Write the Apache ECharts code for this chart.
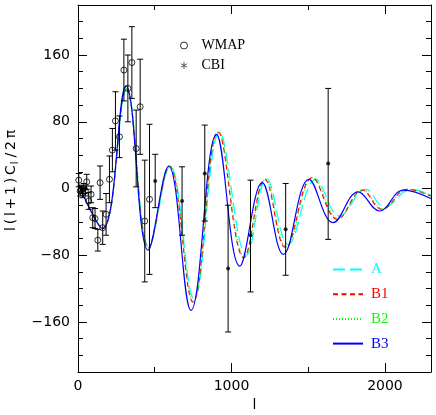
<!DOCTYPE html>
<html>
<head>
<meta charset="utf-8">
<script src="https://cdn.jsdelivr.net/npm/echarts@6/dist/echarts.min.js"></script>
<style>
  html, body { margin: 0; padding: 0; background: #fff; }
  #chart { width: 436px; height: 415px; }
</style>
</head>
<body>
<div id="chart"></div>
<script>
// model curves: peaks and troughs of l(l+1)C_l/2pi
const lA  = [2,160,316,463,600,755,922,1098,1229,1370,1549,1704,1875,1996,2172,2300];
const vA  = [5,-48,118,-70,27,-132,67,-80,12,-67,11,-33,-1,-22,-1,-8];
const lB1 = [2,160,314,460,595,749,913,1081,1218,1352,1527,1691,1852,1980,2146,2300];
const vB1 = [5,-48,120,-71,27,-136,68,-83,11,-71,13,-37,-2,-25,-1,-9];
const lB2 = [2,160,315,461,597,751,916,1086,1222,1358,1533,1696,1856,1984,2150,2300];
const vB2 = [5,-48,120,-71,27,-135,68,-82,11,-70,13,-36,-2,-24,-1,-8];
const lB3 = [2,160,313,457,590,736,902,1054,1200,1338,1505,1662,1825,1965,2120,2300];
const vB3 = [5,-48,123,-74,27,-146,65,-93,7,-79,11,-41,-4,-27,-2,-12];

// WMAP band powers (value, symmetric error)
const wmapL   = [5,14,22,30,38,48,57,70,85,96,111,129,144,161,183,205,224,244,270,299,325,351,379,405,435,466];
const wmapV   = [10,-3,-1,-5,0,-3,8,-15,-7,-35,-36,-62,7,-47,-31,11,46,81,62,142,120,151,48,98,-39,-13];
const wmapErr = [8,6,5,6,6,6,9,10,10,12,12,13,20,20,25,28,26,35,25,37,40,43,46,57,73,90];

// CBI band powers with lower / upper ends of the bars
const cbiL  = [503,678,826,978,1124,1353,1630];
const cbiV  = [9,-15,18,-96,-56,-49,30];
const cbiLo = [-23,-56,-39,-172,-124,-104,-61];
const cbiHi = [41,26,76,-20,10,6,120];

const xMajorTicks = [0,1000,2000];
const xMinorTicks = [500,1500];
const yMajorTicks = [-160,-80,0,80,160];
const yMinorTicks = [-200,-180,-140,-120,-100,-60,-40,-20,20,40,60,100,120,140,180,200];

const zip = (ls, vs) => ls.map((l, i) => [l, vs[i]]);
const tickFont = { color: '#000', fontFamily: 'DejaVu Sans', fontSize: 14 };
const serif = 'Liberation Serif';

function xAx(pos, ticks, len, label) {
  return {
    type: 'value', min: 0, max: 2300, position: pos,
    axisLine: { show: len > 6, onZero: false, lineStyle: { color: '#000', width: 1 } },
    axisTick: { show: true, inside: true, length: len, customValues: ticks, lineStyle: { color: '#000' } },
    axisLabel: label ? Object.assign({ customValues: ticks, margin: 7, formatter: v => String(v) }, tickFont) : { show: false },
    splitLine: { show: false }
  };
}
function yAx(pos, ticks, len, label) {
  return {
    type: 'value', min: -220, max: 220, position: pos,
    axisLine: { show: len > 6, onZero: false, lineStyle: { color: '#000', width: 1 } },
    axisTick: { show: true, inside: true, length: len, customValues: ticks, lineStyle: { color: '#000' } },
    axisLabel: label ? Object.assign({
      customValues: ticks, margin: 8,
      formatter: v => String(v).replace('-', '\u2212')
    }, tickFont) : { show: false },
    splitLine: { show: false }
  };
}

const xAxes = [xAx('bottom', xMajorTicks, 9, true), xAx('bottom', xMinorTicks, 5, false),
               xAx('top', xMajorTicks, 9, false), xAx('top', xMinorTicks, 5, false)];
xAxes[0].name = 'l';
xAxes[0].nameLocation = 'middle';
xAxes[0].nameGap = 24;
xAxes[0].nameTextStyle = { color: '#000', fontFamily: 'DejaVu Sans', fontSize: 14 };

// the title in the picture is set wide, thin spaces keep that look
const ts = '\u2009';
const yAxes = [yAx('left', yMajorTicks, 9, true), yAx('left', yMinorTicks, 5, false),
               yAx('right', yMajorTicks, 9, false), yAx('right', yMinorTicks, 5, false)];
yAxes[0].name = ['l', '(', 'l', '+', '1', ')', 'C{sub|l}', '/', '2', '\u03c0'].join(ts);
yAxes[0].nameLocation = 'middle';
yAxes[0].nameGap = 58;
yAxes[0].nameTextStyle = {
  color: '#000', fontFamily: 'DejaVu Sans', fontSize: 14, padding: [0, 0, 0, 16],
  rich: { sub: { fontFamily: 'DejaVu Sans', fontSize: 10, color: '#000', padding: [8, 1, 0, 1] } }
};

function errorBars(points) {
  return {
    type: 'custom', name: 'bars', silent: true,
    data: points,
    encode: { x: 0, y: [1, 2] },
    renderItem: (params, api) => {
      const lo = api.coord([api.value(0), api.value(1)]);
      const hi = api.coord([api.value(0), api.value(2)]);
      const w = 3;
      const st = { stroke: '#000', lineWidth: 1 };
      return {
        type: 'group',
        children: [
          { type: 'line', shape: { x1: lo[0], y1: lo[1], x2: hi[0], y2: hi[1] }, style: st },
          { type: 'line', shape: { x1: lo[0] - w, y1: lo[1], x2: lo[0] + w, y2: lo[1] }, style: st },
          { type: 'line', shape: { x1: hi[0] - w, y1: hi[1], x2: hi[0] + w, y2: hi[1] }, style: st }
        ]
      };
    },
    z: 3
  };
}

function curve(name, ls, vs, color, type) {
  return {
    type: 'line', name: name, data: zip(ls, vs),
    symbol: 'none', smooth: 0.4,
    lineStyle: { color: color, width: 1.2, type: type },
    itemStyle: { color: color },
    z: 2
  };
}

const asterisk = 'path://M-0.6,-5L0.6,-5L0.6,5L-0.6,5Z' +
  'M4.03,-3.02L4.63,-1.98L-4.03,3.02L-4.63,1.98Z' +
  'M-4.63,-1.98L-4.03,-3.02L4.63,1.98L4.03,3.02Z';

const hideMark = { color: 'rgba(0,0,0,0)', borderWidth: 0, opacity: 0 };

const chart = echarts.init(document.getElementById('chart'), null, { renderer: 'canvas' });
chart.setOption({
  animation: false,
  backgroundColor: '#fff',
  grid: { left: 78, right: 5, top: 5, bottom: 43, containLabel: false, outerBoundsMode: 'none' },
  xAxis: xAxes,
  yAxis: yAxes,
  legend: [
    {
      data: [
        { name: 'WMAP', icon: 'circle', itemStyle: { color: 'rgba(255,255,255,0)', borderColor: '#000', borderWidth: 1 } },
        { name: 'CBI', icon: asterisk, itemStyle: { color: '#000' } }
      ],
      orient: 'vertical', left: 180, top: 38, padding: 0,
      itemWidth: 7, itemHeight: 7, itemGap: 5,
      selectedMode: false,
      textStyle: { color: '#000', fontFamily: serif, fontSize: 14, lineHeight: 15, padding: [0, 0, 0, 9] }
    },
    {
      data: [
        { name: 'A', textStyle: { color: '#00ffff' }, itemStyle: hideMark },
        { name: 'B1', textStyle: { color: '#ff0000' }, itemStyle: hideMark },
        { name: 'B2', textStyle: { color: '#00ff00' }, itemStyle: hideMark },
        { name: 'B3', textStyle: { color: '#0000ff' }, itemStyle: hideMark }
      ],
      orient: 'vertical', left: 332, top: 262, padding: 0,
      itemWidth: 30, itemHeight: 14, itemGap: 9.7,
      selectedMode: false,
      textStyle: { fontFamily: serif, fontSize: 15, padding: [0, 0, 0, 3] }
    }
  ],
  series: [
    curve('A', lA, vA, '#00ffff', [12, 5]),
    curve('B1', lB1, vB1, '#ff0000', [5, 3.5]),
    curve('B2', lB2, vB2, '#00ff00', [1, 2]),
    curve('B3', lB3, vB3, '#0000ff', 'solid'),
    errorBars(wmapL.map((l, i) => [l, wmapV[i] - wmapErr[i], wmapV[i] + wmapErr[i]])),
    errorBars(cbiL.map((l, i) => [l, cbiLo[i], cbiHi[i]])),
    {
      type: 'scatter', name: 'WMAP', data: zip(wmapL, wmapV),
      symbol: 'circle', symbolSize: 6,
      itemStyle: { color: 'rgba(255,255,255,0)', borderColor: '#000', borderWidth: 1 },
      z: 4
    },
    {
      type: 'scatter', name: 'CBI', data: zip(cbiL, cbiV),
      symbol: 'circle', symbolSize: 4,
      itemStyle: { color: '#000' },
      z: 4
    }
  ]
});
</script>
</body>
</html>
